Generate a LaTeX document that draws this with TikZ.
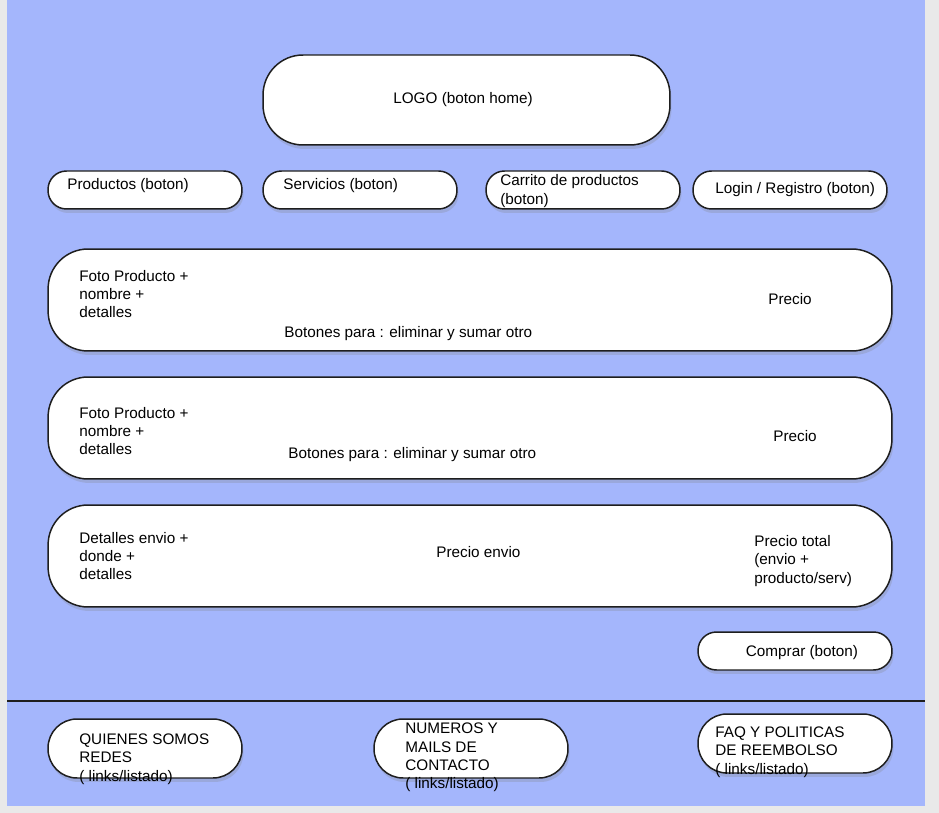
\documentclass[tikz,border=0pt]{standalone}
\usepackage{fontspec}
\setmainfont{Liberation Sans}
\usepackage{xcolor}
\usetikzlibrary{shadows}

\definecolor{panel}{HTML}{A4B6FC}
\definecolor{outside}{HTML}{E9E9E9}
\definecolor{edge}{HTML}{1E1E1E}

\tikzset{
  caja/.style={draw=edge, line width=0.85pt, fill=white, inner sep=0pt,
    drop shadow={opacity=0.25, shadow xshift=0.03cm, shadow yshift=-0.08cm}},
  boton/.style={caja, rounded corners=0.37cm, minimum width=3.88cm, minimum height=0.76cm},
  fila/.style={caja, rounded corners=0.8cm, minimum width=16.88cm, minimum height=2.04cm},
  pie/.style={caja, rounded corners=0.58cm, minimum width=3.88cm, minimum height=1.18cm},
  txt/.style={anchor=west, inner sep=0pt, align=left, yshift=-0.04cm,
    font=\fontsize{8.7}{10.5}\selectfont}
}

\begin{document}
\begin{tikzpicture}[x=0.02cm, y=-0.02cm]
  \useasboundingbox (0,0) rectangle (939,813);
  \fill[outside] (0,0) rectangle (939,813);
  \fill[panel] (7,0) rectangle (925,806);

  % cabecera
  \node[caja, rounded corners=0.8cm, minimum width=8.14cm, minimum height=1.8cm] (logo) at (466.5,100) {};
  \node[txt, anchor=center] (logotxt) at (463,98) {LOGO (boton home)};

  \node[boton] (productos) at (145,190) {};
  \node[boton] (servicios) at (360,190) {};
  \node[boton] (carrito) at (583,190) {};
  \node[boton] (login) at (790,190) {};
  \node[txt] (productostxt) at (67,184) {Productos (boton)};
  \node[txt] (serviciostxt) at (283,184) {Servicios (boton)};
  \node[txt] (carritotxt) at (500,189) {Carrito de productos\\(boton)};
  \node[txt] (logintxt) at (715,188) {Login / Registro (boton)};

  % carrito
  \node[fila] (fila1) at (470,300) {};
  \node[txt] (foto1) at (79,292) {Foto Producto +\\nombre +\\detalles};
  \node[txt] (botones1) at (284,332) {Botones para : eliminar y sumar otro};
  \node[txt] (precio1) at (768,297) {Precio};

  \node[fila] (fila2) at (470,428) {};
  \node[txt] (foto2) at (79,429) {Foto Producto +\\nombre +\\detalles};
  \node[txt] (botones2) at (288,453) {Botones para : eliminar y sumar otro};
  \node[txt] (precio2) at (773,434) {Precio};

  \node[fila] (envio) at (470,556) {};
  \node[txt] (detalles) at (79,554) {Detalles envio +\\donde +\\detalles};
  \node[txt] (precioenvio) at (436,550) {Precio envio};
  \node[txt] (total) at (754,559) {Precio total\\(envio +\\producto/serv)};

  \node[boton] (comprar) at (795,651) {};
  \node[txt, anchor=center] (comprartxt) at (802,651) {Comprar (boton)};

  % pie
  \draw[edge, line width=0.85pt] (7,701) -- (925,701);
  \node[pie] (quienes) at (145,748.5) {};
  \node[pie] (numeros) at (471,748.5) {};
  \node[pie] (faq) at (795,743.5) {};
  \node[txt] (quienestxt) at (79,757) {QUIENES SOMOS\\REDES\\( links/listado)};
  \node[txt] (numerostxt) at (405,755.5) {NUMEROS Y\\MAILS DE\\CONTACTO\\( links/listado)};
  \node[txt] (faqtxt) at (715,750) {FAQ Y POLITICAS\\DE REEMBOLSO\\( links/listado)};
\end{tikzpicture}
\end{document}
